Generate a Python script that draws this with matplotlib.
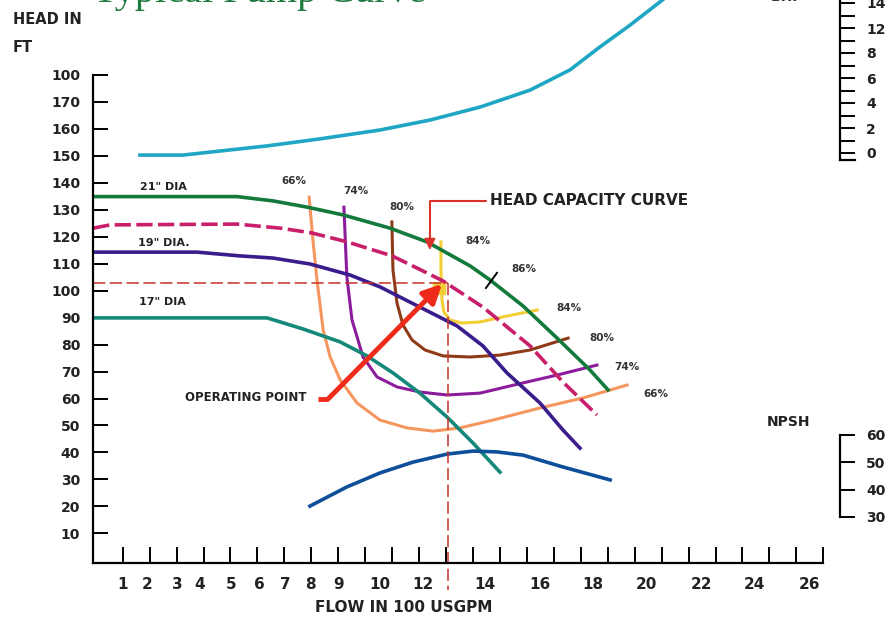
import matplotlib
matplotlib.use('Agg')
import matplotlib.pyplot as plt

# axis ticks and labels
flow_ticks = list(range(1, 28))
flow_labels = ['1', '2', '3', '4', '5', '6', '7', '8', '9', '10', '12',
               '14', '16', '18', '20', '22', '24', '26']
flow_label_pos = [1.0, 1.89, 3.04, 3.87, 5.04, 6.09, 7.02, 7.95, 9.03, 10.55,
                  12.14, 14.44, 16.48, 18.45, 20.44, 22.48, 24.46, 26.5]
head_ticks = [10, 20, 30, 40, 50, 60, 70, 80, 90, 100, 110, 120, 130, 140,
              150, 160, 170, 180]
head_labels = ['10', '20', '30', '40', '50', '60', '70', '80', '90', '100',
               '110', '120', '130', '140', '150', '160', '170', '100']
bhp_labels = ['0', '2', '4', '6', '8', '12', '14']
npsh_ticks = [30, 40, 50, 60]

# BHP curve
bhp_flow = [1.64, 3.24, 4.43, 6.36, 8.32, 10.55, 12.41, 14.26, 16.12, 17.6, 18.71, 19.83, 21.13]
bhp_head = [150.3, 150.3, 151.6, 153.7, 156.3, 159.6, 163.3, 168.1, 174.4, 181.9, 190.4, 198.5, 208.6]

# impeller diameters
d21_flow = [-0.09, 5.24, 6.58, 7.84, 9.18, 10.92, 12.29, 13.89, 14.63, 15.86, 17.12, 18.34, 19.01]
d21_head = [134.9, 134.9, 133.3, 131.0, 128.1, 123.2, 118.1, 109.2, 104.0, 94.3, 82.4, 70.6, 63.2]

d20_flow = [-0.09, 0.53, 5.24, 6.84, 8.03, 9.33, 11.0, 11.92, 12.89, 14.37, 16.12, 17.34, 18.6]
d20_head = [123.2, 124.4, 124.7, 123.2, 121.4, 118.1, 112.9, 108.4, 103.6, 93.9, 79.5, 66.1, 53.9]

d19_flow = [-0.09, 3.76, 5.35, 6.58, 7.95, 9.44, 10.55, 12.03, 13.41, 14.37, 15.26, 16.49, 17.34, 17.97]
d19_head = [114.3, 114.3, 112.9, 112.1, 109.9, 105.8, 101.4, 93.9, 86.9, 79.5, 69.5, 58.3, 48.3, 41.6]

d17_flow = [-0.09, 6.36, 7.69, 9.07, 10.07, 11.03, 12.03, 13.04, 14.0, 15.0]
d17_head = [89.9, 89.9, 85.8, 81.0, 75.8, 69.5, 62.0, 53.1, 43.5, 32.7]

# NPSH curve
npsh_flow = [7.95, 9.32, 10.55, 11.77, 13.04, 14.0, 14.89, 15.86, 17.34, 19.09]
npsh_head = [20.1, 27.2, 32.4, 36.4, 39.4, 40.5, 40.2, 39.0, 34.6, 29.8]

# efficiency curves
e66_flow = [7.92, 8.06, 8.21, 8.44, 8.7, 9.07, 9.7, 10.55, 11.55, 12.52, 13.52, 14.74, 16.49, 18.08, 19.72]
e66_head = [134.7, 118.8, 104.0, 85.4, 75.4, 66.9, 58.3, 52.0, 49.1, 47.9, 49.1, 52.0, 56.5, 60.2, 65.0]

e74_flow = [9.21, 9.32, 9.51, 9.7, 9.92, 10.44, 11.18, 12.03, 13.04, 14.26, 15.86, 17.12, 18.6]
e74_head = [131.0, 105.1, 89.1, 82.8, 75.4, 68.0, 64.3, 62.4, 61.3, 62.0, 65.8, 68.7, 72.4]

e80_flow = [10.99, 11.03, 11.18, 11.4, 11.74, 12.22, 12.89, 13.89, 15.0, 16.12, 17.53]
e80_head = [125.5, 107.7, 95.4, 87.3, 81.7, 78.0, 75.8, 75.4, 76.1, 78.0, 82.4]

e84_flow = [12.81, 12.81, 12.85, 12.92, 13.15, 13.59, 14.26, 15.26, 16.38]
e84_head = [118.1, 107.7, 96.5, 92.1, 89.1, 88.0, 88.4, 90.6, 92.8]

# operating point
op_flow = 13.07
op_head = 103.0

fig = plt.figure(figsize=(8.89, 6.19), dpi=100)
plt.rcParams['font.family'] = 'DejaVu Sans'
plt.rcParams['font.weight'] = 'bold'
W, H = 889.0, 619.0

ax = fig.add_axes([93.3 / W, 1 - 562.7 / H, 730 / W, 487.7 / H])
ax.set_xlim(-0.09, 27.0)
ax.set_ylim(-0.9, 180)
ax.patch.set_visible(False)

for s in ['top', 'right']:
    ax.spines[s].set_visible(False)
for s in ['left', 'bottom']:
    ax.spines[s].set_linewidth(1.6)

ax.xaxis.remove_overlapping_locs = False
ax.set_xticks(flow_ticks)
ax.set_xticklabels([])
ax.set_xticks(flow_label_pos, minor=True)
ax.set_xticklabels(flow_labels, minor=True)
ax.tick_params(axis='x', which='major', direction='in', length=11.5, width=1.4)
ax.tick_params(axis='x', which='minor', length=0, pad=10, labelsize=11, labelcolor='#222')
ax.set_yticks(head_ticks)
ax.set_yticklabels(head_labels)
ax.tick_params(axis='y', direction='in', length=10.8, width=1.4, pad=9.5,
               labelsize=10, labelcolor='#222')

lw_eff = 2.2
ax.plot(e66_flow, e66_head, color='#F5965F', lw=lw_eff)
ax.plot(e74_flow, e74_head, color='#8C1C9C', lw=lw_eff)
ax.plot(e80_flow, e80_head, color='#8F3B17', lw=lw_eff)
ax.plot(e84_flow, e84_head, color='#F3CE34', lw=lw_eff)
ax.plot(op_flow - 0.33, op_head - 2.1, marker='s', ms=8, color='#F3CE34')

lw_main = 2.6
ax.plot(d17_flow, d17_head, color='#14897A', lw=lw_main)
ax.plot(d19_flow, d19_head, color='#3B1C8C', lw=lw_main)
ax.plot(d20_flow, d20_head, color='#C91F6A', lw=lw_main, ls=(0, (4.5, 1.5)))
ax.plot(d21_flow, d21_head, color='#137A3C', lw=lw_main)
ax.plot(npsh_flow, npsh_head, color='#0E4F99', lw=lw_main)
ax.plot(bhp_flow, bhp_head, color='#1FA6C4', lw=lw_main, clip_on=False)

# operating point guides
ax.plot([-0.09, op_flow], [op_head, op_head], color='#C8302A', lw=1.1, ls=(0, (8, 3)))
ax.plot([op_flow, op_flow], [op_head, -11], color='#C8302A', lw=1.1, ls=(0, (8, 3)),
        clip_on=False)

# 86% mark
ax.plot([14.48, 14.89], [101.0, 106.6], color='black', lw=1.4)

# arrows
red = '#EE2A1B'
ax.plot([8.25, 8.62], [59.8, 59.8], color=red, lw=3.5, solid_capstyle='butt')
ax.annotate('', xy=(12.85, 102.5), xytext=(8.62, 59.8),
            arrowprops=dict(arrowstyle='-|>', color=red, lw=3.5, mutation_scale=28,
                            shrinkA=0, shrinkB=0))
ax.text(7.84, 60.5, 'OPERATING POINT', ha='right', va='center', fontsize=8.5, color='#222')
ax.annotate('HEAD CAPACITY CURVE', xy=(12.4, 115.1), xytext=(14.63, 133.3),
            ha='left', va='center', fontsize=11, color='#222',
            arrowprops=dict(arrowstyle='-|>', color='#D8322A', lw=1.5, mutation_scale=16,
                            connectionstyle='angle,angleA=180,angleB=90,rad=0',
                            shrinkA=1, shrinkB=0))

# diameter labels
ax.text(1.64, 138.5, '21" DIA', ha='left', va='center', fontsize=8, color='#222')
ax.text(1.57, 117.7, '19" DIA.', ha='left', va='center', fontsize=8, color='#222')
ax.text(1.6, 95.8, '17" DIA', ha='left', va='center', fontsize=8, color='#222')

# efficiency labels
pct = dict(ha='center', va='center', fontsize=7.5, color='#333')
ax.text(7.36, 140.7, '66%', **pct)
ax.text(9.66, 137.0, '74%', **pct)
ax.text(11.37, 131.0, '80%', **pct)
ax.text(14.19, 118.4, '84%', **pct)
ax.text(15.89, 108.0, '86%', **pct)
ax.text(17.56, 93.6, '84%', **pct)
ax.text(18.79, 82.4, '80%', **pct)
ax.text(19.71, 71.7, '74%', **pct)
ax.text(20.79, 61.7, '66%', **pct)

# BHP scale
ax_bhp = fig.add_axes([840 / W, 1 - 160 / H, 15 / W, 160 / H])
ax_bhp.set_ylim(-0.28, 6.12)
ax_bhp.set_yticks(range(len(bhp_labels)))
ax_bhp.set_yticklabels(bhp_labels)
ax_bhp.set_yticks([0.5, 1.5, 2.5, 3.5, 4.5, 5.5], minor=True)
ax_bhp.set_xticks([])

# NPSH scale
ax_npsh = fig.add_axes([840 / W, 1 - 517 / H, 15 / W, 82 / H])
ax_npsh.set_ylim(30, 60)
ax_npsh.set_yticks(npsh_ticks)
ax_npsh.set_xticks([])

for a in [ax_bhp, ax_npsh]:
    a.patch.set_visible(False)
    for s in ['top', 'right', 'bottom']:
        a.spines[s].set_visible(False)
    a.spines['left'].set_linewidth(1.6)
    a.tick_params(axis='y', which='both', direction='in', length=10.8, width=1.4,
                  left=True, right=False, labelleft=False, labelright=True,
                  pad=8, labelsize=10, labelcolor='#222')
ax_bhp.spines['bottom'].set_visible(True)
ax_bhp.spines['bottom'].set_linewidth(1.6)

# texts cut by the top edge
fig.text(93 / W, 1 - 2 / H, 'Typical Pump Curve', family='Liberation Serif',
         fontsize=29, weight='normal', color='#1F7A3F', ha='left', va='baseline')
fig.text(787 / W, 1 - 1 / H, 'BHP', ha='center', va='baseline', fontsize=10, color='#333')

fig.text(13 / W, 1 - 20 / H, 'HEAD IN', ha='left', va='center', fontsize=10.5, color='#222')
fig.text(13 / W, 1 - 47 / H, 'FT', ha='left', va='center', fontsize=10.5, color='#222')
fig.text(788 / W, 1 - 422 / H, 'NPSH', ha='center', va='center', fontsize=10, color='#222')
fig.text(404 / W, 1 - 608 / H, 'FLOW IN 100 USGPM', ha='center', va='center',
         fontsize=11, color='#222')

plt.savefig('out.png', dpi=100)
